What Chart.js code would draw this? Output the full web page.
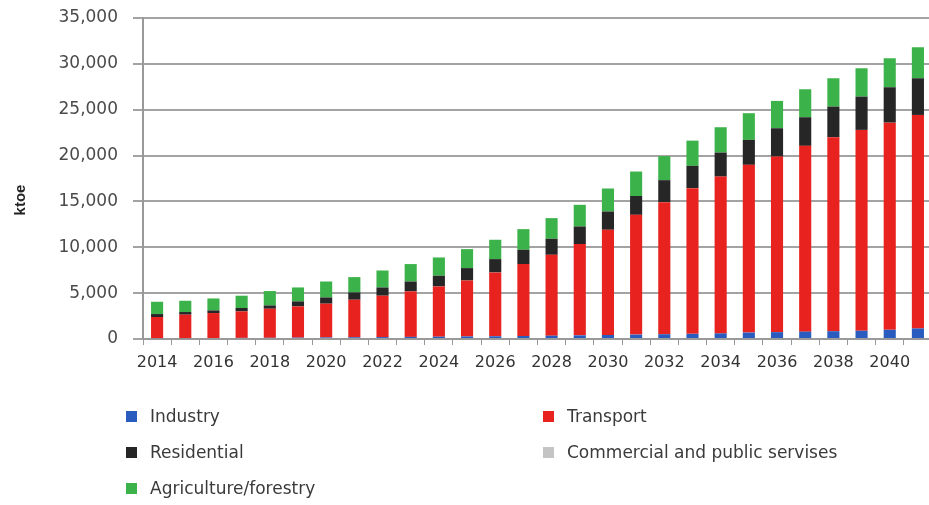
<!DOCTYPE html>
<html>
<head>
<meta charset="utf-8">
<script src="https://cdn.jsdelivr.net/npm/chart.js@4.4.0/dist/chart.umd.min.js"></script>
<style>
    html, body { margin: 0; padding: 0; background: #fff; overflow: hidden; }
    #wrap { position: relative; width: 929px; height: 505px; overflow: hidden; }
    #energyChart { position: absolute; left: 0; top: 0; }
    #legend {
        position: absolute; left: 126px; top: 407px;
        display: grid; grid-template-columns: 417px auto; row-gap: 18px;
        font-family: "DejaVu Sans", sans-serif; font-size: 17px; color: #3a3a3a;
    }
    .item { display: flex; align-items: center; height: 18px; white-space: nowrap; }
    .box { width: 11px; height: 11px; margin-right: 13px; }
</style>
</head>
<body>
<div id="wrap">
    <canvas id="energyChart" width="933" height="505"></canvas>
    <div id="legend"></div>
</div>
<script>
const years = ['2014','2015','2016','2017','2018','2019','2020','2021','2022','2023','2024','2025','2026','2027',
               '2028','2029','2030','2031','2032','2033','2034','2035','2036','2037','2038','2039','2040','2041'];

// ktoe
const industry    = [100,100,110,120,130,150,170,190,210,230,250,280,300,330,360,400,440,480,520,560,610,700,750,800,850,900,1000,1150];
const transport   = [2300,2550,2720,2890,3170,3400,3680,4090,4510,4960,5480,6100,6960,7840,8820,9950,11470,13060,14400,15890,17100,18290,19140,20260,21150,21900,22590,23280];
const residential = [320,290,290,370,360,550,680,800,900,1080,1170,1350,1450,1560,1750,1920,1990,2050,2400,2430,2620,2720,3090,3120,3340,3630,3860,4000];
const commercial  = [0,0,0,0,0,0,0,0,0,0,0,0,0,0,0,0,0,0,0,0,0,0,0,0,0,0,0,0];
const agriculture = [1340,1230,1300,1340,1570,1520,1740,1670,1850,1900,1990,2070,2110,2250,2250,2360,2510,2670,2620,2750,2760,2910,2980,3050,3090,3090,3160,3380];

const yTicks = [0, 5000, 10000, 15000, 20000, 25000, 30000, 35000];

const gridGrey = '#a3a3a3';

// y axis title sits a bit below the middle in the original
const axisTitle = {
    id: 'axisTitle',
    afterDraw(chart) {
        const c = chart.ctx;
        c.save();
        c.translate(21, 200);
        c.rotate(-Math.PI / 2);
        c.font = 'bold 15px "Liberation Sans", Arial, sans-serif';
        c.fillStyle = '#222';
        c.textAlign = 'center';
        c.textBaseline = 'middle';
        c.fillText('ktoe', 0, 0);
        c.restore();
    }
};

const ctx = document.getElementById('energyChart').getContext('2d');
const energyChart = new Chart(ctx, {
    type: 'bar',
    data: {
        labels: years,
        datasets: [
            { label: 'Industry', data: industry, backgroundColor: '#2a5cbf' },
            { label: 'Transport', data: transport, backgroundColor: '#e8231f' },
            { label: 'Residential', data: residential, backgroundColor: '#262626' },
            { label: 'Commercial and public servises', data: commercial, backgroundColor: '#c4c4c4' },
            { label: 'Agriculture/forestry', data: agriculture, backgroundColor: '#3cb34a' }
        ]
    },
    options: {
        responsive: false,
        animation: false,
        layout: { padding: { top: 18, left: 0, right: 1, bottom: 136 } },
        plugins: { legend: { display: false }, tooltip: { enabled: false } },
        datasets: { bar: { categoryPercentage: 1, barPercentage: 0.43 } },
        scales: {
            x: {
                stacked: true,
                offset: true,
                grid: { display: true, drawOnChartArea: false, drawTicks: true, tickLength: 6, color: '#999', offset: true },
                border: { display: true, color: '#999', width: 2 },
                ticks: {
                    autoSkip: false,
                    maxRotation: 0,
                    padding: 8,
                    color: '#333',
                    font: { family: '"DejaVu Sans", sans-serif', size: 16 },
                    callback: (v, i) => i % 2 === 0 ? years[i] : ''
                },
                afterFit: (scale) => { scale.height = 30; }
            },
            y: {
                stacked: true,
                min: 0,
                max: yTicks[yTicks.length - 1],
                grid: { color: gridGrey, lineWidth: 2, drawTicks: true, tickLength: 10 },
                border: { display: true, color: '#999', width: 2 },
                afterBuildTicks: (scale) => { scale.ticks = yTicks.map(v => ({ value: v })); },
                ticks: {
                    padding: 15,
                    color: '#4a4a4a',
                    font: { family: '"DejaVu Sans", sans-serif', size: 17 },
                    callback: (v) => v.toLocaleString('en-US')
                },
                // fixed width, and no extra room for the top label
                afterFit: (scale) => {
                    scale.width = 143;
                    scale.paddingTop = 0;
                    scale.paddingBottom = 0;
                }
            }
        }
    },
    plugins: [axisTitle]
});

// legend in two columns, row by row like the original
const legend = document.getElementById('legend');
const order = [0, 1, 2, 3, 4];
order.forEach(i => {
    const ds = energyChart.data.datasets[i];
    const item = document.createElement('div');
    item.className = 'item';
    item.innerHTML = `<span class="box" style="background:${ds.backgroundColor}"></span><span>${ds.label}</span>`;
    legend.appendChild(item);
});
</script>
</body>
</html>
